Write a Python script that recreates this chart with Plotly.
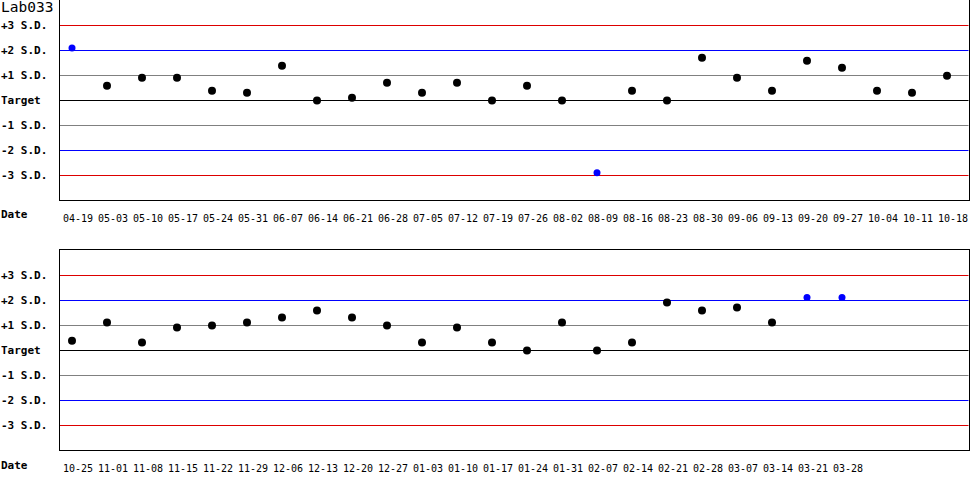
import plotly.graph_objects as go

title = "Lab033"

dates_top = ["04-19", "05-03", "05-10", "05-17", "05-24", "05-31", "06-07", "06-14",
             "06-21", "06-28", "07-05", "07-12", "07-19", "07-26", "08-02", "08-09",
             "08-16", "08-23", "08-30", "09-06", "09-13", "09-20", "09-27", "10-04",
             "10-11", "10-18"]
values_top = [2.1, 0.59, 0.91, 0.91, 0.39, 0.31, 1.39, 0.0,
              0.11, 0.71, 0.31, 0.71, 0.0, 0.59, 0.0, -2.89,
              0.39, 0.0, 1.71, 0.91, 0.39, 1.59, 1.31, 0.39,
              0.31, 0.99]

dates_bot = ["10-25", "11-01", "11-08", "11-15", "11-22", "11-29", "12-06", "12-13",
             "12-20", "12-27", "01-03", "01-10", "01-17", "01-24", "01-31", "02-07",
             "02-14", "02-21", "02-28", "03-07", "03-14", "03-21", "03-28"]
values_bot = [0.39, 1.12, 0.32, 0.92, 1.0, 1.12, 1.32, 1.6,
              1.32, 1.0, 0.32, 0.92, 0.32, 0.0, 1.12, 0.0,
              0.32, 1.92, 1.6, 1.72, 1.12, 2.12, 2.12]

level_values = [3, 2, 1, 0, -1, -2, -3]
level_labels = ["+3 S.D.", "+2 S.D.", "+1 S.D.", "Target", "-1 S.D.", "-2 S.D.", "-3 S.D."]
level_colors = ["#dd0000", "#0000ff", "#808080", "#000000", "#808080", "#0000ff", "#dd0000"]

W, H = 970, 500
mono = "DejaVu Sans Mono"

fig = go.Figure()

panels = [(dates_top, values_top, "x", "y"), (dates_bot, values_bot, "x2", "y2")]
for dates, vals, xa, ya in panels:
    colors = ["#0000ff" if abs(v) > 2 else "#000000" for v in vals]
    sizes = [7 if abs(v) > 2 else 8 for v in vals]
    fig.add_trace(go.Scatter(
        x=list(range(len(dates))), y=vals, mode="markers",
        marker=dict(color=colors, size=sizes, opacity=1, line=dict(width=0)),
        xaxis=xa, yaxis=ya, showlegend=False, hoverinfo="skip"))

x_range = [-12 / 35, -12 / 35 + 908.5 / 35]
xdom = [60 / W, 968.5 / W]
y_range = [-3.98, 4.02]

common_x = dict(range=x_range, domain=xdom, showgrid=False, zeroline=False,
                showline=True, linecolor="black", linewidth=1, mirror=True,
                ticks="outside", ticklen=9, tickcolor="rgba(0,0,0,0)",
                ticklabelshift=6,
                tickfont=dict(family=mono, size=10, color="black"), automargin=False)
common_y = dict(range=y_range, showgrid=False, zeroline=False, showticklabels=False,
                showline=True, linecolor="black", linewidth=1, mirror=True,
                automargin=False)

fig.update_layout(
    width=W, height=H, margin=dict(l=0, r=0, t=0, b=0),
    paper_bgcolor="white", plot_bgcolor="white",
    xaxis=dict(common_x, tickvals=list(range(len(dates_top))), ticktext=dates_top, anchor="y"),
    yaxis=dict(common_y, domain=[0.6, 1.0], anchor="x"),
    xaxis2=dict(common_x, tickvals=list(range(len(dates_bot))), ticktext=dates_bot, anchor="y2"),
    yaxis2=dict(common_y, domain=[0.1, 0.5], anchor="x2"),
)

shapes = []
annotations = []
for yref, xref in [("y", "x"), ("y2", "x2")]:
    for lv, lab, col in zip(level_values, level_labels, level_colors):
        shapes.append(dict(type="line", xref=xref + " domain", yref=yref,
                           x0=0, x1=1, y0=lv, y1=lv, line=dict(color=col, width=1), layer="below"))
        annotations.append(dict(text="<b>" + lab + "</b>", xref="paper", yref=yref, x=0, y=lv,
                                xanchor="left", yanchor="middle", showarrow=False,
                                font=dict(family=mono, size=11, color="black"), borderpad=0))

annotations.append(dict(text="<b>Date</b>", xref="paper", yref="paper", x=0, y=1 - 215 / H,
                        xanchor="left", yanchor="middle", showarrow=False,
                        font=dict(family=mono, size=11, color="black"), borderpad=0))
annotations.append(dict(text="<b>Date</b>", xref="paper", yref="paper", x=0, y=1 - 465 / H,
                        xanchor="left", yanchor="middle", showarrow=False,
                        font=dict(family=mono, size=11, color="black"), borderpad=0))
annotations.append(dict(text=title, xref="paper", yref="paper", x=0, y=1 - 7 / H,
                        xanchor="left", yanchor="middle", showarrow=False,
                        font=dict(family=mono, size=14.5, color="black"), borderpad=0))

fig.update_layout(shapes=shapes, annotations=annotations)

fig.write_html("out.html", config={"displayModeBar": False},
               post_script="document.body.style.margin='0';")
